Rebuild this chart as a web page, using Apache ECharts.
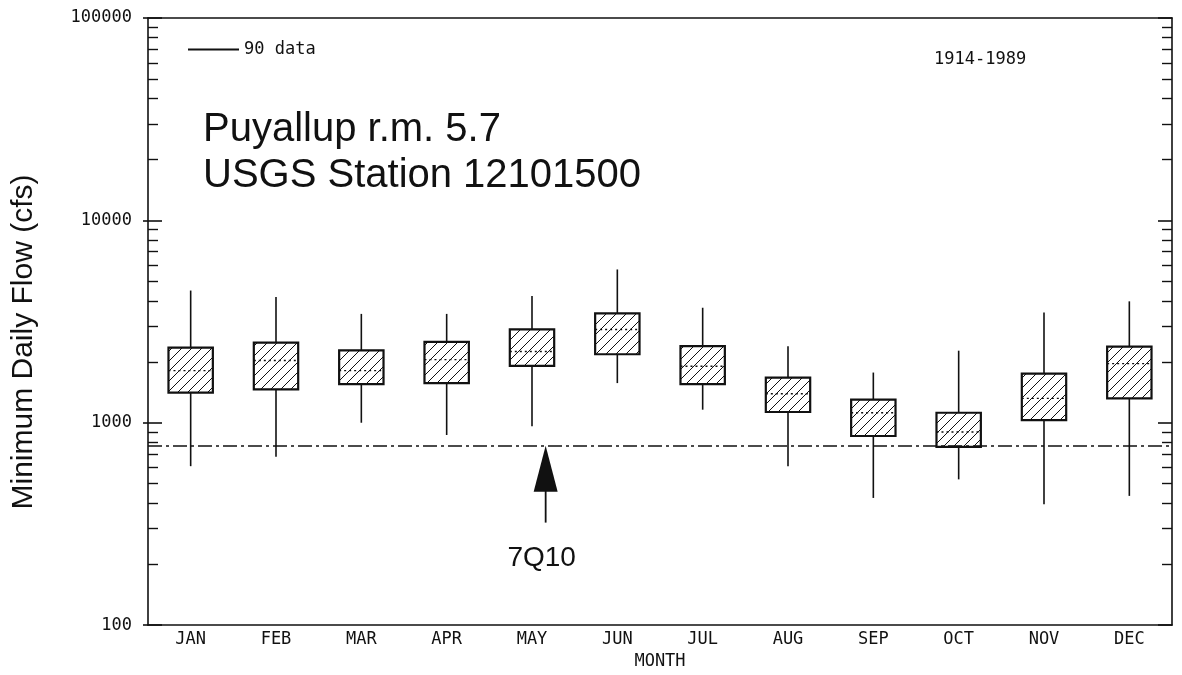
<!DOCTYPE html>
<html>
<head>
<meta charset="utf-8">
<script src="https://cdn.jsdelivr.net/npm/echarts@6/dist/echarts.min.js"></script>
<style>
  html, body { margin: 0; padding: 0; background: #fff; }
  #chart { width: 1182px; height: 675px; }
</style>
</head>
<body>
<div id="chart"></div>
<script>
// monthly minimum daily flow, cfs
var months = ["JAN", "FEB", "MAR", "APR", "MAY", "JUN", "JUL", "AUG", "SEP", "OCT", "NOV", "DEC"];
var lows = [610, 680, 1000, 870, 960, 1570, 1160, 610, 425, 525, 395, 435];
var q1 = [1410, 1460, 1550, 1570, 1910, 2180, 1550, 1130, 860, 760, 1030, 1320];
var medians = [1810, 2030, 1810, 2050, 2250, 2890, 1900, 1390, 1120, 900, 1320, 1960];
var q3 = [2350, 2490, 2280, 2510, 2890, 3470, 2390, 1670, 1300, 1120, 1750, 2380];
var highs = [4500, 4180, 3450, 3450, 4230, 5720, 3700, 2390, 1770, 2270, 3510, 3980];

// 7Q10 low flow and the arrow pointing at it
var q7q10 = 770;
var arrowX = 4.16;      // in month-index units
var arrowTail = 321;
var arrowLabel = 213;

// log axis ticks
var majorTicks = [100, 1000, 10000, 100000];
var minorTicks = [];
[100, 1000, 10000].forEach(function (d) {
  for (var k = 2; k <= 9; k++) minorTicks.push(k * d);
});

var plotFont = "DejaVu Sans Mono";

// hatch pattern for boxes
var hatch = document.createElement("canvas");
hatch.width = 10;
hatch.height = 10;
var hc = hatch.getContext("2d");
hc.fillStyle = "#fff";
hc.fillRect(0, 0, 10, 10);
hc.strokeStyle = "#111";
hc.lineWidth = 1;
hc.beginPath();
hc.moveTo(0, 10); hc.lineTo(10, 0);
hc.moveTo(-5, 5); hc.lineTo(5, -5);
hc.moveTo(5, 15); hc.lineTo(15, 5);
hc.stroke();

var boxData = months.map(function (m, i) {
  return [m, lows[i], q1[i], medians[i], q3[i], highs[i]];
});

function renderBox(params, api) {
  var i = api.value(0);
  var lo = api.coord([i, api.value(1)]);
  var b1 = api.coord([i, api.value(2)]);
  var md = api.coord([i, api.value(3)]);
  var b3 = api.coord([i, api.value(4)]);
  var hi = api.coord([i, api.value(5)]);
  var w = api.size([1, 1000])[0] * 0.52;
  var x = b1[0];
  var ln = { stroke: "#111", lineWidth: 1.6 };
  return {
    type: "group",
    children: [
      { type: "line", shape: { x1: x, y1: hi[1], x2: x, y2: b3[1] }, style: ln },
      { type: "line", shape: { x1: x, y1: b1[1], x2: x, y2: lo[1] }, style: ln },
      {
        type: "rect",
        shape: { x: x - w / 2, y: b3[1], width: w, height: b1[1] - b3[1] },
        style: { fill: { image: hatch, repeat: "repeat" }, stroke: "#111", lineWidth: 2.2 }
      },
      {
        type: "line",
        shape: { x1: x - w / 2, y1: md[1], x2: x + w / 2, y2: md[1] },
        style: { stroke: "#111", lineWidth: 1.4, lineDash: [2, 3] }
      }
    ]
  };
}

function renderArrow(params, api) {
  var tip = api.coord([api.value(0), api.value(1)]);
  var tail = api.coord([api.value(0), api.value(2)]);
  var lab = api.coord([api.value(0), api.value(3)]);
  var x = tip[0];
  return {
    type: "group",
    children: [
      { type: "line", shape: { x1: x, y1: tail[1], x2: x, y2: tip[1] + 40 }, style: { stroke: "#111", lineWidth: 1.8 } },
      {
        type: "polygon",
        shape: { points: [[x, tip[1]], [x - 12, tip[1] + 46], [x + 12, tip[1] + 46]] },
        style: { fill: "#111" }
      },
      {
        type: "text",
        x: x - 4,
        y: lab[1],
        style: {
          text: "7Q10", fill: "#111", font: "28px 'Liberation Sans'",
          align: "center", verticalAlign: "middle"
        }
      }
    ]
  };
}

var axisLineStyle = { color: "#111", width: 1.6 };
var tickLabel = { fontFamily: plotFont, fontSize: 17, color: "#111" };

var myChart = echarts.init(document.getElementById("chart"));
myChart.setOption({
  backgroundColor: "#fff",
  animation: false,
  title: [
    {
      text: "Puyallup r.m. 5.7\nUSGS Station 12101500",
      left: 203, top: 107, padding: 0,
      textStyle: { fontFamily: "Liberation Sans", fontSize: 40, fontWeight: "normal", lineHeight: 46, color: "#111" }
    },
    {
      text: "1914-1989",
      left: 934, top: 51, padding: 0,
      textStyle: { fontFamily: plotFont, fontSize: 17, fontWeight: "normal", color: "#111" }
    }
  ],
  legend: {
    left: 188, top: 41, padding: 0,
    itemWidth: 51, itemHeight: 2,
    data: [{ name: "90 data", icon: "rect" }],
    itemStyle: { color: "#111", borderWidth: 0 },
    textStyle: tickLabel,
    selectedMode: false
  },
  graphic: [
    {
      type: "text",
      x: 24, y: 342,
      rotation: Math.PI / 2,
      style: {
        text: "Minimum Daily Flow (cfs)", fill: "#111",
        font: "30px 'Liberation Sans'", align: "center", verticalAlign: "middle"
      }
    }
  ],
  grid: { left: 148, right: 10, top: 18, bottom: 47 },
  xAxis: [
    {
      type: "category", data: months, position: "bottom",
      axisLine: { onZero: false, lineStyle: axisLineStyle },
      axisTick: { inside: true, length: 12, lineStyle: axisLineStyle },
      axisLabel: Object.assign({ margin: 6 }, tickLabel),
      splitLine: { show: false },
      name: "MONTH", nameLocation: "middle", nameGap: 23,
      nameTextStyle: tickLabel
    },
    {
      type: "category", data: months, position: "top",
      axisLine: { onZero: false, lineStyle: axisLineStyle },
      axisTick: { inside: true, length: 13, lineStyle: axisLineStyle },
      axisLabel: { show: false },
      splitLine: { show: false }
    },
    { type: "value", min: -0.5, max: 11.5, show: false },
    {
      // short stubs of the month ticks below the bottom axis
      type: "category", data: months, position: "bottom",
      axisLine: { show: false, onZero: false },
      axisTick: { inside: false, length: 3, lineStyle: axisLineStyle },
      axisLabel: { show: false },
      splitLine: { show: false }
    }
  ],
  yAxis: [
    {
      type: "log", logBase: 10, min: 100, max: 100000, position: "left",
      axisLine: { onZero: false, lineStyle: axisLineStyle },
      axisTick: { inside: false, length: 5, lineStyle: axisLineStyle },
      axisLabel: Object.assign({ margin: 16, formatter: function (v) { return String(Math.round(v)); } }, tickLabel),
      splitLine: { show: false }, minorTick: { show: false }
    },
    {
      type: "value", min: 2, max: 5, position: "left",
      axisLine: { show: false, onZero: false },
      axisTick: { inside: true, length: 14, lineStyle: axisLineStyle, customValues: majorTicks.map(Math.log10) },
      axisLabel: { show: false }, splitLine: { show: false }
    },
    {
      type: "value", min: 2, max: 5, position: "left",
      axisLine: { show: false, onZero: false },
      axisTick: { inside: true, length: 10, lineStyle: { color: "#111", width: 1.4 }, customValues: minorTicks.map(Math.log10) },
      axisLabel: { show: false }, splitLine: { show: false }
    },
    {
      type: "value", min: 2, max: 5, position: "right",
      axisLine: { onZero: false, lineStyle: axisLineStyle },
      axisTick: { inside: true, length: 14, lineStyle: axisLineStyle, customValues: majorTicks.map(Math.log10) },
      axisLabel: { show: false }, splitLine: { show: false }
    },
    {
      type: "value", min: 2, max: 5, position: "right",
      axisLine: { show: false, onZero: false },
      axisTick: { inside: true, length: 10, lineStyle: { color: "#111", width: 1.4 }, customValues: minorTicks.map(Math.log10) },
      axisLabel: { show: false }, splitLine: { show: false }
    }
  ],
  series: [
    {
      name: "90 data",
      type: "custom",
      xAxisIndex: 0, yAxisIndex: 0,
      itemStyle: { color: "#111" },
      renderItem: renderBox,
      encode: { x: 0, y: [1, 2, 3, 4, 5] },
      data: boxData,
      markLine: {
        silent: true, symbol: "none",
        label: { show: false },
        lineStyle: { color: "#111", width: 1.5, type: [14, 4, 3, 4] },
        data: [{ yAxis: q7q10 }]
      }
    },
    {
      name: "7Q10",
      type: "custom",
      xAxisIndex: 2, yAxisIndex: 0,
      renderItem: renderArrow,
      encode: { x: 0, y: [1, 2, 3] },
      data: [[arrowX, q7q10, arrowTail, arrowLabel]]
    }
  ]
});
</script>
</body>
</html>
